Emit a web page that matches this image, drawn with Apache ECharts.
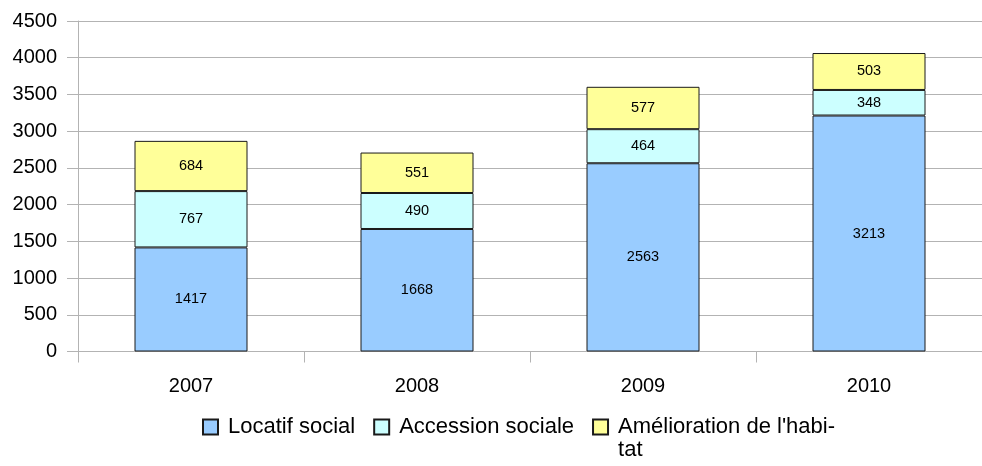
<!DOCTYPE html>
<html>
<head>
<meta charset="utf-8">
<script src="https://cdn.jsdelivr.net/npm/echarts@6/dist/echarts.min.js"></script>
<style>
  html, body { margin: 0; padding: 0; background: #fff; }
  #chart { width: 982px; height: 466px; }
</style>
</head>
<body>
<div id="chart"></div>
<script>
// Logements financés par année et par type
const years = ['2007', '2008', '2009', '2010'];
const locatifSocial = [1417, 1668, 2563, 3213];
const accessionSociale = [767, 490, 464, 348];
const ameliorationHabitat = [684, 551, 577, 503];
const seriesNames = ['Locatif social', 'Accession sociale', "Amélioration de l'habitat"];
const seriesColors = ['#99ccff', '#ccffff', '#ffff99'];

const FONT = '"Liberation Sans", Arial, sans-serif';
const LEGEND_LINE = 23;

function barSeries(name, data, color) {
  return {
    name: name,
    type: 'bar',
    stack: 'total',
    barWidth: '50%',
    data: data,
    itemStyle: { color: color, borderColor: '#1a1a1a', borderWidth: 1 },
    label: {
      show: true,
      position: 'inside',
      color: '#000',
      fontFamily: FONT,
      fontSize: 14.5
    },
    emphasis: { disabled: true }
  };
}

const chart = echarts.init(document.getElementById('chart'), null, { renderer: 'canvas' });
chart.setOption({
  animation: false,
  backgroundColor: '#fff',
  grid: { left: 78, right: -12, top: 21, bottom: 114.5, containLabel: false },
  xAxis: {
    type: 'category',
    data: years,
    boundaryGap: true,
    axisLine: { show: true, lineStyle: { color: '#b3b3b3', width: 1 } },
    axisTick: { show: true, length: 11, lineStyle: { color: '#b3b3b3' } },
    axisLabel: { color: '#000', fontFamily: FONT, fontSize: 20, margin: 25 }
  },
  yAxis: {
    type: 'value',
    min: 0,
    max: 4500,
    interval: 500,
    axisLine: { show: true, lineStyle: { color: '#b3b3b3', width: 1 } },
    axisTick: { show: true, length: 11, lineStyle: { color: '#b3b3b3' } },
    axisLabel: {
      color: '#000', fontFamily: FONT, fontSize: 20, margin: 21,
      formatter: function (v) { return String(v); }
    },
    splitLine: { show: true, lineStyle: { color: '#b3b3b3', width: 1 } }
  },
  legend: {
    left: 202,
    top: 416,
    padding: 0,
    itemWidth: 15,
    itemHeight: 15,
    itemGap: 18,
    selectedMode: false,
    icon: 'rect',
    textStyle: {
      color: '#000', fontFamily: FONT, fontSize: 22, padding: [0, 0, 0, 5],
      rich: { t: { fontFamily: FONT, fontSize: 22, lineHeight: LEGEND_LINE, color: '#000' } }
    },
    formatter: function (name) {
      if (name === seriesNames[2]) {
        return "{t|Amélioration de l'habi-}\n{t|tat}";
      }
      return '{t|' + name + '}';
    },
    data: [
      { name: seriesNames[0] },
      { name: seriesNames[1] },
      { name: seriesNames[2], textStyle: { padding: [LEGEND_LINE, 0, 0, 5] } }
    ]
  },
  series: [
    barSeries(seriesNames[0], locatifSocial, seriesColors[0]),
    barSeries(seriesNames[1], accessionSociale, seriesColors[1]),
    barSeries(seriesNames[2], ameliorationHabitat, seriesColors[2])
  ]
});
</script>
</body>
</html>
